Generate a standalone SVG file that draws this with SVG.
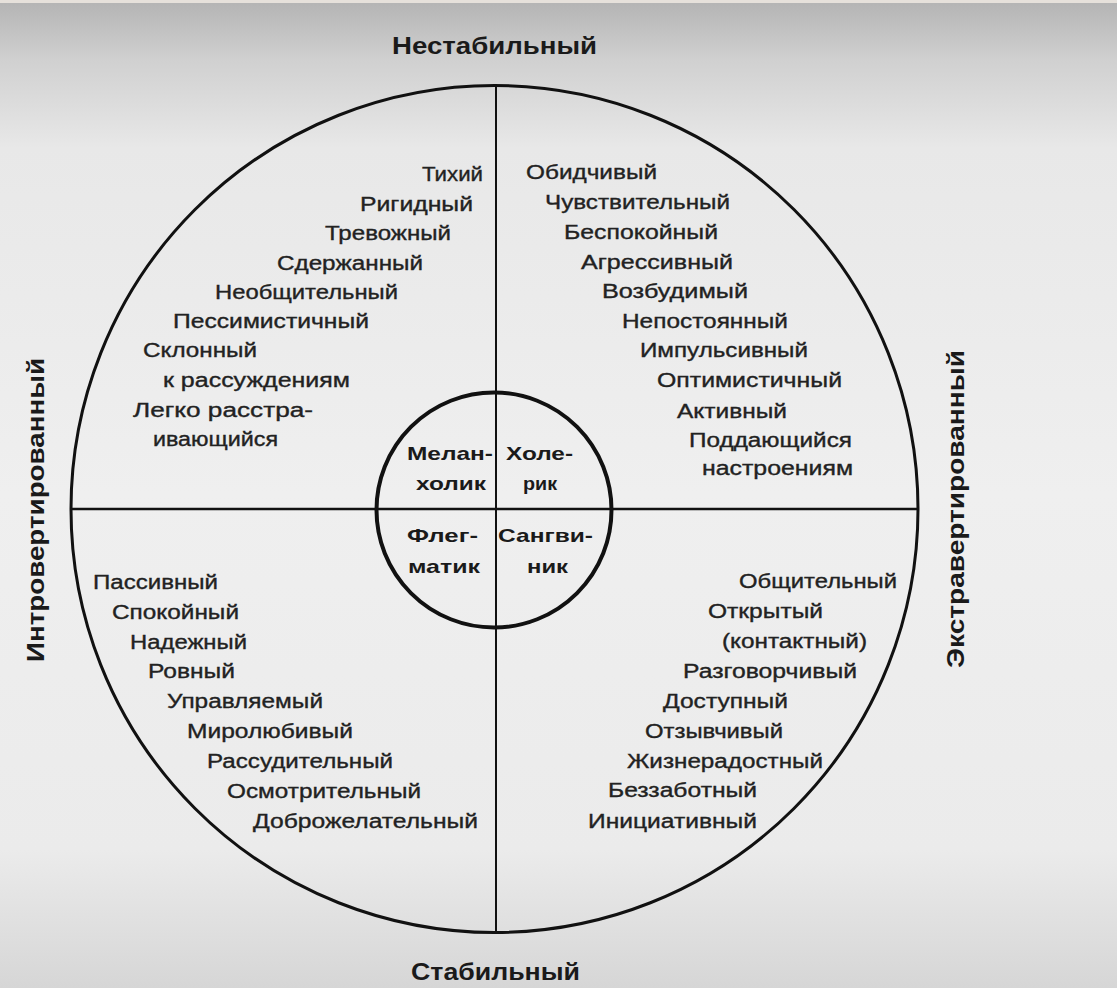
<svg xmlns="http://www.w3.org/2000/svg" width="1117" height="988" viewBox="0 0 1117 988">
<defs>
<linearGradient id="bg" x1="0" y1="0" x2="0" y2="1">
<stop offset="0" stop-color="#b3b3b3"/>
<stop offset="0.06" stop-color="#d0d0d0"/>
<stop offset="0.15" stop-color="#e8e8e8"/>
<stop offset="0.5" stop-color="#efefef"/>
<stop offset="0.86" stop-color="#ebebeb"/>
<stop offset="1" stop-color="#d6d6d6"/>
</linearGradient>
<style>
.t{font-family:"Liberation Sans",Arial,sans-serif;font-size:20px;fill:#222;stroke:#222;stroke-width:0.35px}
.b{font-family:"Liberation Sans",Arial,sans-serif;font-size:19px;font-weight:bold;fill:#1a1a1a}
.h{font-family:"Liberation Sans",Arial,sans-serif;font-size:23px;font-weight:bold;fill:#1a1a1a}
.v{font-family:"Liberation Sans",Arial,sans-serif;font-size:23px;font-weight:bold;fill:#1a1a1a}
.ln{stroke:#111;fill:none}
</style>
</defs>
<rect x="0" y="0" width="1117" height="988" fill="url(#bg)"/>
<rect x="0" y="0" width="1117" height="3" fill="#e6e1db"/>

<g id="connectors">
<line class="ln" x1="496" y1="86" x2="496" y2="932" stroke-width="2"/>
<line class="ln" x1="71" y1="509" x2="918" y2="509" stroke-width="2.5"/>
</g>

<g id="outer-circle">
<circle class="ln" cx="494.5" cy="509" r="423.5" stroke-width="3"/>
</g>
<g id="inner-circle">
<circle class="ln" cx="494" cy="510" r="117.5" stroke-width="4"/>
</g>

<g id="axis-labels">
<text id="label-top" class="h" x="392" y="54" textLength="205" lengthAdjust="spacingAndGlyphs">Нестабильный</text>
<text id="label-bottom" class="h" x="411" y="980" textLength="169" lengthAdjust="spacingAndGlyphs">Стабильный</text>
<text id="label-left" class="v" transform="translate(44,510) rotate(-90)" x="-152" y="0" textLength="304" lengthAdjust="spacingAndGlyphs">Интровертированный</text>
<text id="label-right" class="v" transform="translate(964,509) rotate(-90)" x="-159" y="0" textLength="318" lengthAdjust="spacingAndGlyphs">Экстравертированный</text>
</g>

<g id="types">
<text class="b" x="407" y="460" textLength="86" lengthAdjust="spacingAndGlyphs">Мелан-</text>
<text class="b" x="416" y="490" textLength="70" lengthAdjust="spacingAndGlyphs">холик</text>
<text class="b" x="506" y="460" textLength="67" lengthAdjust="spacingAndGlyphs">Холе-</text>
<text class="b" x="523" y="490" textLength="34" lengthAdjust="spacingAndGlyphs">рик</text>
<text class="b" x="407" y="542" textLength="71" lengthAdjust="spacingAndGlyphs">Флег-</text>
<text class="b" x="408" y="573" textLength="72" lengthAdjust="spacingAndGlyphs">матик</text>
<text class="b" x="498" y="542" textLength="95" lengthAdjust="spacingAndGlyphs">Сангви-</text>
<text class="b" x="527" y="573" textLength="41" lengthAdjust="spacingAndGlyphs">ник</text>
</g>

<g id="melancholic-traits">
<text class="t" x="422" y="181" textLength="61" lengthAdjust="spacingAndGlyphs">Тихий</text>
<text class="t" x="360" y="211" textLength="113" lengthAdjust="spacingAndGlyphs">Ригидный</text>
<text class="t" x="325" y="240" textLength="126" lengthAdjust="spacingAndGlyphs">Тревожный</text>
<text class="t" x="277" y="270" textLength="146" lengthAdjust="spacingAndGlyphs">Сдержанный</text>
<text class="t" x="215" y="299" textLength="183" lengthAdjust="spacingAndGlyphs">Необщительный</text>
<text class="t" x="173" y="328" textLength="196" lengthAdjust="spacingAndGlyphs">Пессимистичный</text>
<text class="t" x="143" y="357" textLength="114" lengthAdjust="spacingAndGlyphs">Склонный</text>
<text class="t" x="163" y="387" textLength="187" lengthAdjust="spacingAndGlyphs">к рассуждениям</text>
<text class="t" x="133" y="417" textLength="180" lengthAdjust="spacingAndGlyphs">Легко расстра-</text>
<text class="t" x="153" y="446" textLength="125" lengthAdjust="spacingAndGlyphs">ивающийся</text>
</g>

<g id="choleric-traits">
<text class="t" x="526" y="179" textLength="131" lengthAdjust="spacingAndGlyphs">Обидчивый</text>
<text class="t" x="545" y="209" textLength="185" lengthAdjust="spacingAndGlyphs">Чувствительный</text>
<text class="t" x="564" y="239" textLength="154" lengthAdjust="spacingAndGlyphs">Беспокойный</text>
<text class="t" x="581" y="269" textLength="152" lengthAdjust="spacingAndGlyphs">Агрессивный</text>
<text class="t" x="602" y="298" textLength="146" lengthAdjust="spacingAndGlyphs">Возбудимый</text>
<text class="t" x="622" y="328" textLength="166" lengthAdjust="spacingAndGlyphs">Непостоянный</text>
<text class="t" x="640" y="357" textLength="168" lengthAdjust="spacingAndGlyphs">Импульсивный</text>
<text class="t" x="657" y="387" textLength="185" lengthAdjust="spacingAndGlyphs">Оптимистичный</text>
<text class="t" x="677" y="418" textLength="110" lengthAdjust="spacingAndGlyphs">Активный</text>
<text class="t" x="689" y="447" textLength="163" lengthAdjust="spacingAndGlyphs">Поддающийся</text>
<text class="t" x="702" y="475" textLength="151" lengthAdjust="spacingAndGlyphs">настроениям</text>
</g>

<g id="phlegmatic-traits">
<text class="t" x="93" y="589" textLength="125" lengthAdjust="spacingAndGlyphs">Пассивный</text>
<text class="t" x="112" y="619" textLength="127" lengthAdjust="spacingAndGlyphs">Спокойный</text>
<text class="t" x="130" y="649" textLength="117" lengthAdjust="spacingAndGlyphs">Надежный</text>
<text class="t" x="148" y="678" textLength="87" lengthAdjust="spacingAndGlyphs">Ровный</text>
<text class="t" x="167" y="708" textLength="156" lengthAdjust="spacingAndGlyphs">Управляемый</text>
<text class="t" x="187" y="738" textLength="166" lengthAdjust="spacingAndGlyphs">Миролюбивый</text>
<text class="t" x="207" y="768" textLength="186" lengthAdjust="spacingAndGlyphs">Рассудительный</text>
<text class="t" x="227" y="798" textLength="194" lengthAdjust="spacingAndGlyphs">Осмотрительный</text>
<text class="t" x="253" y="828" textLength="225" lengthAdjust="spacingAndGlyphs">Доброжелательный</text>
</g>

<g id="sanguine-traits">
<text class="t" x="739" y="588" textLength="158" lengthAdjust="spacingAndGlyphs">Общительный</text>
<text class="t" x="708" y="618" textLength="115" lengthAdjust="spacingAndGlyphs">Открытый</text>
<text class="t" x="722" y="648" textLength="145" lengthAdjust="spacingAndGlyphs">(контактный)</text>
<text class="t" x="683" y="678" textLength="174" lengthAdjust="spacingAndGlyphs">Разговорчивый</text>
<text class="t" x="663" y="708" textLength="125" lengthAdjust="spacingAndGlyphs">Доступный</text>
<text class="t" x="645" y="738" textLength="138" lengthAdjust="spacingAndGlyphs">Отзывчивый</text>
<text class="t" x="627" y="768" textLength="196" lengthAdjust="spacingAndGlyphs">Жизнерадостный</text>
<text class="t" x="608" y="797" textLength="149" lengthAdjust="spacingAndGlyphs">Беззаботный</text>
<text class="t" x="588" y="828" textLength="169" lengthAdjust="spacingAndGlyphs">Инициативный</text>
</g>
</svg>
